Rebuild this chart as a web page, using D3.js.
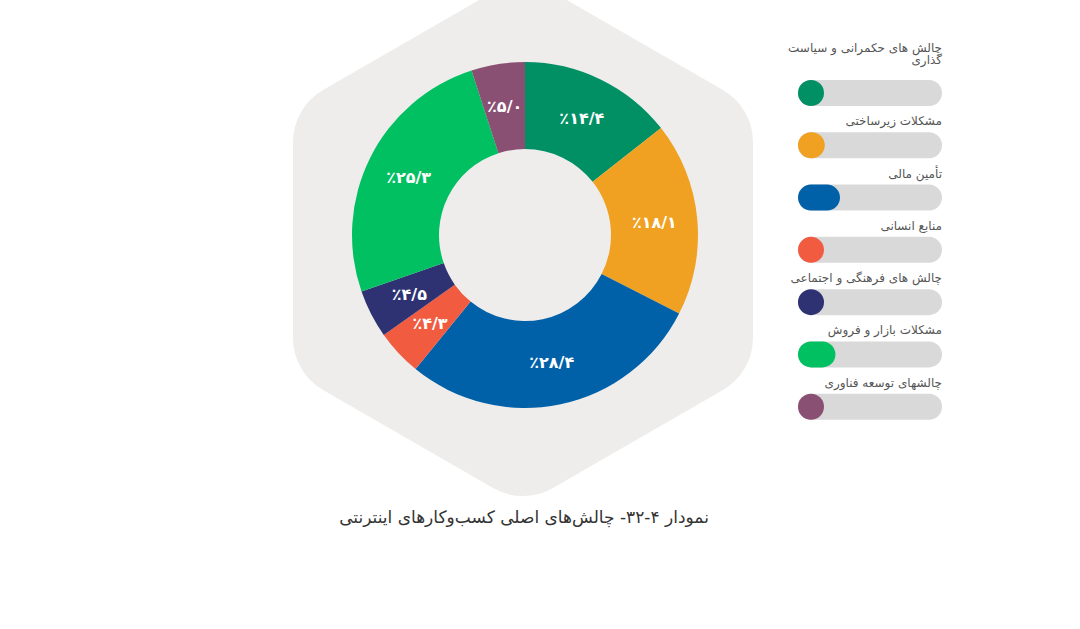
<!DOCTYPE html>
<html><head><meta charset="utf-8">
<script src="https://cdn.jsdelivr.net/npm/d3@7"></script>
<style>body{margin:0;background:#fff;font-family:"DejaVu Sans",sans-serif;}</style>
</head><body>
<svg id="chart" width="1080" height="629"></svg>
<script>
var categories = ["چالش های حکمرانی و سیاست گذاری", "مشکلات زیرساختی", "تأمین مالی", "منابع انسانی", "چالش های فرهنگی و اجتماعی", "مشکلات بازار و فروش", "چالشهای توسعه فناوری"];
var values = [14.4, 18.1, 28.4, 4.3, 4.5, 25.3, 5.0];
var labels = ["٪۱۴/۴", "٪۱۸/۱", "٪۲۸/۴", "٪۴/۳", "٪۴/۵", "٪۲۵/۳", "٪۵/۰"];
var colors = ["#009064", "#F0A122", "#0061A8", "#F15B40", "#2E3272", "#00C062", "#8A5073"];

var svg = d3.select("#chart");
var cx = 525, cy = 235;

// rounded hexagon background
var hex = [[523, 44], [693, 142], [693, 338], [523, 436], [353, 338], [353, 142]];
svg.append("path")
  .attr("d", d3.line()(hex) + "Z")
  .attr("fill", "#EEEDEC").attr("stroke", "#EEEDEC")
  .attr("stroke-width", 120).attr("stroke-linejoin", "round");

var pie = d3.pie().sort(null)(values);
var arc = d3.arc().innerRadius(86).outerRadius(173);
var labelArc = d3.arc().innerRadius(130).outerRadius(130);

var g = svg.append("g").attr("transform", "translate(" + cx + "," + cy + ")");
g.selectAll("path").data(pie).enter().append("path")
  .attr("d", arc).attr("fill", (d, i) => colors[i]);

g.selectAll("text").data(pie).enter().append("text")
  .attr("transform", d => "translate(" + labelArc.centroid(d) + ")")
  .attr("text-anchor", "middle").attr("dy", "0.35em")
  .attr("fill", "#fff").attr("font-weight", "bold").attr("font-size", 16)
  .text((d, i) => "\u202D" + labels[i] + "\u202C");

// legend
var y = d3.scaleBand().domain(d3.range(categories.length)).range([68, 434]);
var w = d3.scaleLinear().domain([0, 28.4]).range([0, 42]);
var leg = svg.selectAll("g.leg").data(categories).enter().append("g")
  .attr("transform", (d, i) => "translate(0," + y(i) + ")");
leg.append("rect").attr("x", 798).attr("y", 12).attr("width", 144).attr("height", 26)
  .attr("rx", 13).attr("fill", "#D9D9D9");
leg.append("rect").attr("x", 798).attr("y", 12)
  .attr("width", (d, i) => Math.max(26, w(values[i]))).attr("height", 26)
  .attr("rx", 13).attr("fill", (d, i) => colors[i]);
leg.append("text").attr("x", 942).attr("y", 5)
  .attr("text-anchor", "start").attr("direction", "rtl")
  .attr("font-size", 12).attr("fill", "#555")
  .each(function (d, i) {
    var t = d3.select(this);
    if (i === 0) {
      t.attr("y", -16);
      t.append("tspan").attr("x", 942).text("چالش های حکمرانی و سیاست");
      t.append("tspan").attr("x", 942).attr("dy", 12).text("گذاری");
    } else t.text(d);
  });

svg.append("text").attr("x", 524).attr("y", 523)
  .attr("text-anchor", "middle").attr("direction", "rtl")
  .attr("font-size", 17).attr("fill", "#333")
  .text("نمودار ۴-۳۲- چالش‌های اصلی کسب‌وکارهای اینترنتی");
</script>
</body></html>
